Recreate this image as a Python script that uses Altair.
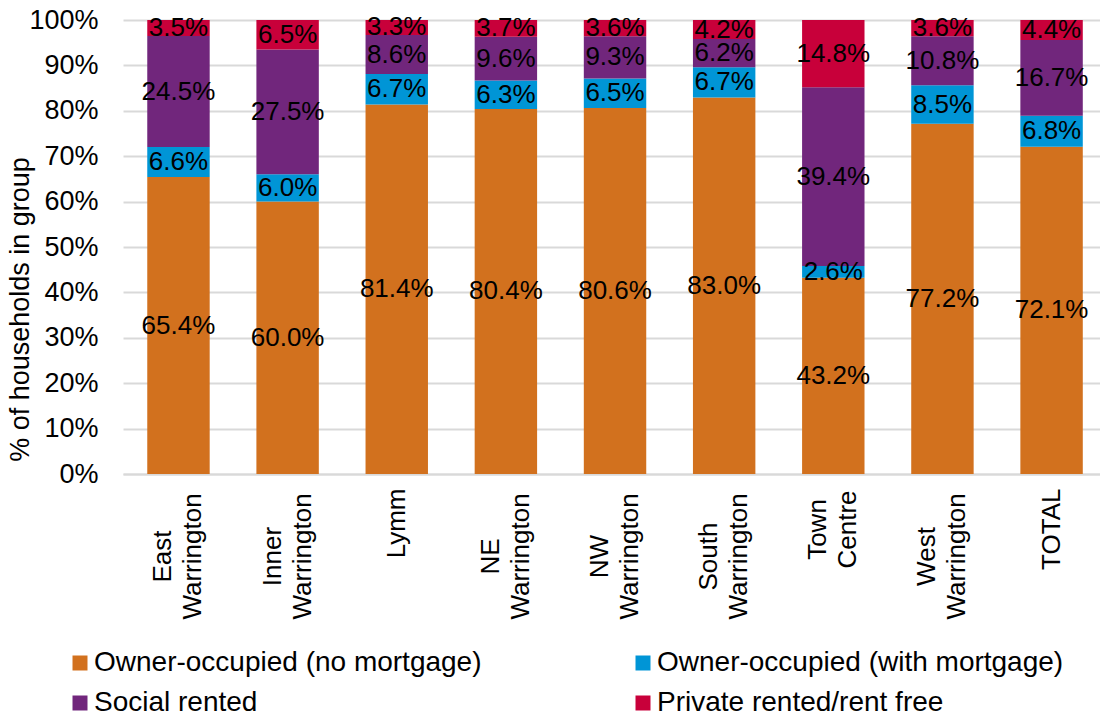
import altair as alt
import pandas as pd

categories = ["East Warrington", "Inner Warrington", "Lymm", "NE Warrington",
              "NW Warrington", "South Warrington", "Town Centre",
              "West Warrington", "TOTAL"]
tenures = ["Owner-occupied (no mortgage)", "Owner-occupied (with mortgage)",
           "Social rented", "Private rented/rent free"]
colors = ["#D2711E", "#0095D6", "#71267C", "#C8003A"]

no_mortgage = [65.4, 60.0, 81.4, 80.4, 80.6, 83.0, 43.2, 77.2, 72.1]
with_mortgage = [6.6, 6.0, 6.7, 6.3, 6.5, 6.7, 2.6, 8.5, 6.8]
social_rented = [24.5, 27.5, 8.6, 9.6, 9.3, 6.2, 39.4, 10.8, 16.7]
private_rented = [3.5, 6.5, 3.3, 3.7, 3.6, 4.2, 14.8, 3.6, 4.4]

series = [no_mortgage, with_mortgage, social_rented, private_rented]
rows = []
for k, (t, vals) in enumerate(zip(tenures, series)):
    for c, v in zip(categories, vals):
        rows.append({"area": c, "tenure": t, "value": v, "order": k})
df = pd.DataFrame(rows)

FONT = "Liberation Sans"

base = alt.Chart(df).transform_stack(
    stack="value", groupby=["area"], as_=["v0", "v1"], offset="normalize",
    sort=[alt.SortField("order", order="ascending")]
).transform_calculate(
    mid="(datum.v0 + datum.v1) / 2",
    label="format(datum.value, '.1f') + '%'"
)

x_scale = alt.Scale(paddingInner=0.428, paddingOuter=0.19, align=0.585)

single = "datum.value === 'Lymm' || datum.value === 'TOTAL'"
x_enc = alt.X(
    "area:N", sort=categories, scale=x_scale,
    axis=alt.Axis(
        title=None, labelAngle=270, labelExpr="split(datum.label, ' ')",
        labelFont=FONT, labelFontSize=26, labelColor="#000000",
        labelLineHeight=30, ticks=False, domainColor="#D9D9D9", domainWidth=2,
        labelBaseline="middle",
        labelAlign={"expr": f"{single} ? 'right' : 'center'"},
        labelPadding={"expr": f"{single} ? 14 : (datum.value === 'Town Centre' ? 55 : 82)"},
        labelOffset={"expr": f"{single} ? 0 : -15"},
    ),
)

bars = base.mark_bar().encode(
    x=x_enc,
    y=alt.Y(
        "v0:Q", scale=alt.Scale(domain=[0, 1]),
        axis=alt.Axis(
            format=".0%", values=[i / 10 for i in range(11)],
            title="% of households in group", titleFont=FONT, titleFontSize=27,
            titleFontWeight="normal", titleColor="#000000",
            titleAngle=270, titleAlign="center", titleBaseline="alphabetic",
            titleX=-95, titleY=289,
            labelFont=FONT, labelFontSize=27, labelColor="#000000",
            labelPadding=25, domain=False, ticks=False,
            gridColor="#D9D9D9", gridWidth=2,
        ),
    ),
    y2="v1:Q",
    color=alt.Color(
        "tenure:N", scale=alt.Scale(domain=tenures, range=colors),
        legend=alt.Legend(
            title=None, orient="none", legendX=-57, legendY=629, columns=2,
            direction="horizontal",
            symbolType="square", symbolSize=225, symbolStrokeWidth=0,
            labelFont=FONT, labelFontSize=28, labelColor="#000000",
            labelLimit=0, labelOffset=0, columnPadding=147, rowPadding=12,
        ),
    ),
)

labels = base.mark_text(font=FONT, fontSize=26, color="#000000").encode(
    x=alt.X("area:N", sort=categories, scale=x_scale),
    y=alt.Y("mid:Q"),
    text="label:N",
)

chart = alt.layer(bars, labels).properties(
    width=977, height=454, autosize="none",
    padding={"left": 115, "top": 12, "right": 0, "bottom": 241},
).configure_view(stroke=None)

chart.save("out.html", embed_options={"renderer": "svg", "actions": False})
